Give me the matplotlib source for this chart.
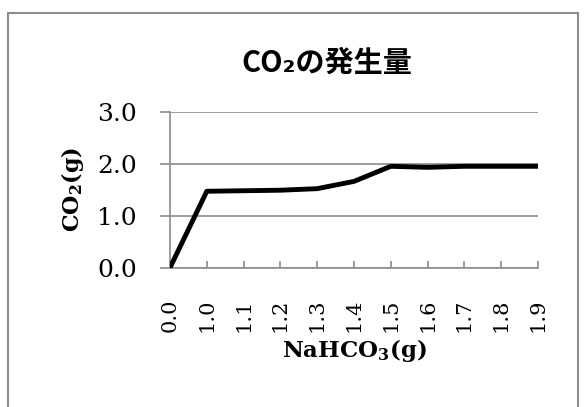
import matplotlib
matplotlib.use("Agg")
import matplotlib.pyplot as plt
from matplotlib.patches import Rectangle

# data
categories = ["0.0", "1.0", "1.1", "1.2", "1.3", "1.4", "1.5", "1.6", "1.7", "1.8", "1.9"]
co2 = [0.0, 1.47, 1.48, 1.49, 1.52, 1.66, 1.95, 1.93, 1.95, 1.95, 1.95]
yticks = [0.0, 1.0, 2.0, 3.0]

plt.rcParams['font.family'] = ['DejaVu Serif']
plt.rcParams['mathtext.fontset'] = 'custom'
plt.rcParams['mathtext.rm'] = 'DejaVu Serif'
plt.rcParams['mathtext.bf'] = 'DejaVu Serif:bold'
plt.rcParams['mathtext.default'] = 'bf'

grey = '#8c8c8c'

fig = plt.figure(figsize=(5.84, 4.07), dpi=100)
fig.patches.append(Rectangle((8 / 584, -0.05), 570 / 584, 1.05 - 13 / 407,
                             transform=fig.transFigure, fill=False,
                             edgecolor='#8c8c8c', linewidth=1.5))

ax = fig.add_axes([170 / 584, 1 - 267.7 / 407, 368 / 584, 156 / 407])
x = list(range(len(categories)))
ax.plot(x, co2, color='black', linewidth=3.5, solid_capstyle='round',
        solid_joinstyle='round', zorder=3)

ax.set_xlim(0, len(categories) - 1)
ax.set_ylim(0, 3.0)
ax.set_yticks(yticks)
ax.set_yticklabels([f"{v:.1f}" for v in yticks], fontsize=18)
ax.set_xticks(x)
ax.set_xticklabels(categories, rotation=90, fontsize=15)

ax.grid(axis='y', color=grey, linewidth=1.2)
for s in ['top', 'right']:
    ax.spines[s].set_visible(False)
for s in ['left', 'bottom']:
    ax.spines[s].set_color(grey)
    ax.spines[s].set_linewidth(1.2)
ax.tick_params(axis='y', direction='out', length=7, width=1.2, color=grey, pad=17)
ax.tick_params(axis='x', direction='in', length=5, width=1.2, color=grey, pad=22)

ax.set_ylabel("CO$_2$(g)", fontsize=16, fontweight='bold', labelpad=8)
ax.set_xlabel("NaHCO$_3$(g)", fontsize=16.5, fontweight='bold', labelpad=4)

fig.text(327 / 584, 1 - 63 / 407, "CO₂の発生量", ha='center', va='center',
         fontsize=21, fontweight='bold', family=['Noto Sans CJK JP', 'DejaVu Sans'])

fig.savefig("out.png", dpi=100)
